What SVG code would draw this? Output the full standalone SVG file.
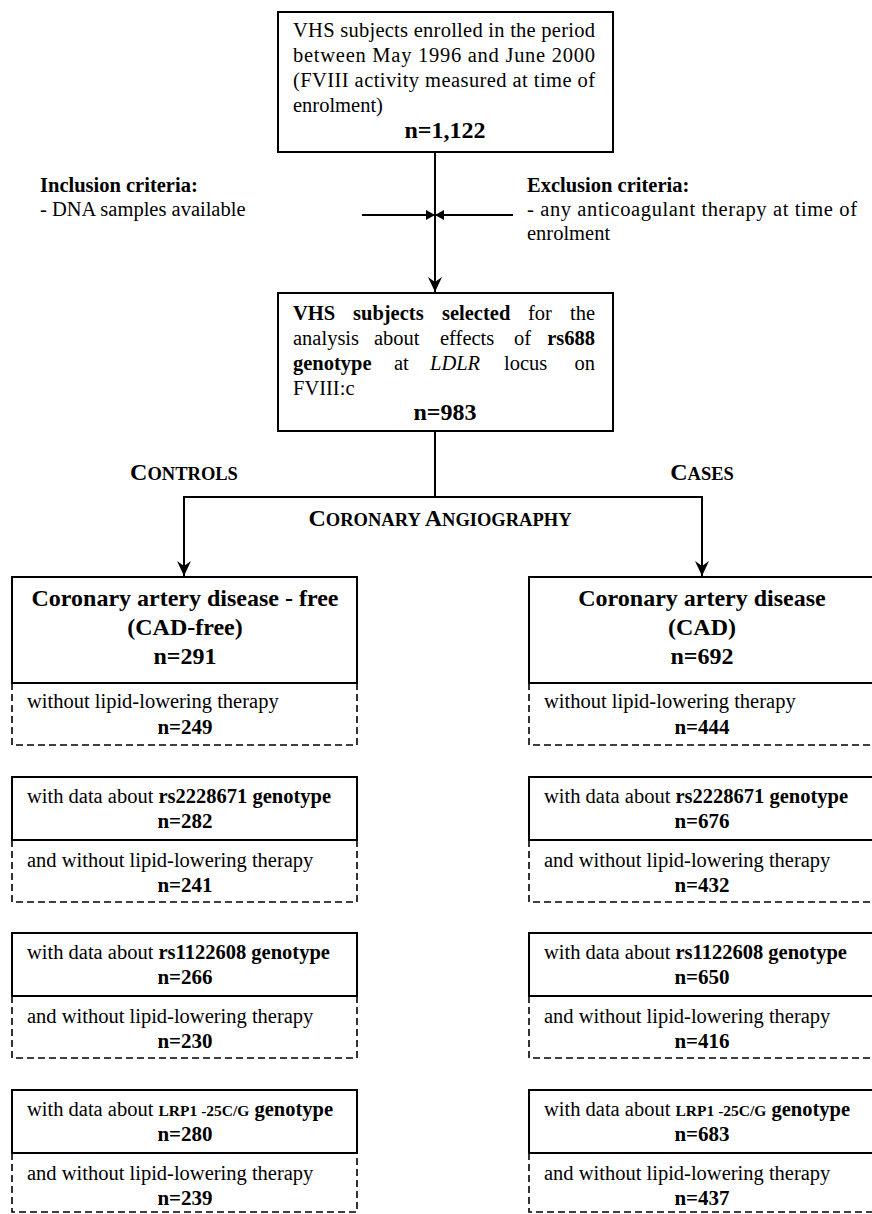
<svg xmlns="http://www.w3.org/2000/svg" width="872" height="1214" viewBox="0 0 872 1214">
<defs>
<style>
.box{fill:none;stroke:#000;stroke-width:2}
.dash{fill:none;stroke:#000;stroke-width:1.6;stroke-dasharray:7 4}
.ln{fill:none;stroke:#000;stroke-width:2}
text{font-family:"Liberation Serif","Times New Roman",serif;font-size:20.5px;fill:#000}
.b{font-weight:bold}
.i{font-style:italic}
.n{font-weight:bold;font-size:21px;text-anchor:middle}
.nb{font-weight:bold;font-size:24px;text-anchor:middle}
.sc{font-weight:bold;text-anchor:middle}
.c{text-anchor:middle}
</style>
<marker id="arr" viewBox="-16 -8 17 16" refX="0" refY="0" markerWidth="17" markerHeight="16" orient="auto" markerUnits="userSpaceOnUse">
<path d="M0,0 L-15,-7 L-10,0 L-15,7 z" fill="#000"/>
</marker>
<marker id="sarr" viewBox="-10 -6 11 12" refX="0" refY="0" markerWidth="11" markerHeight="12" orient="auto" markerUnits="userSpaceOnUse">
<path d="M0,0 L-9,-5 L-9,5 z" fill="#000"/>
</marker>
</defs>
<rect width="872" height="1214" fill="#fff"/>

<g id="connectors">
<line class="ln" x1="435" y1="152" x2="435" y2="292" marker-end="url(#arr)"/>
<line class="ln" x1="362" y1="215" x2="435" y2="215" marker-end="url(#sarr)"/>
<line class="ln" x1="513" y1="215" x2="435" y2="215" marker-end="url(#sarr)"/>
<line class="ln" x1="435" y1="431" x2="435" y2="497"/>
<line class="ln" x1="183" y1="497" x2="703" y2="497"/>
<line class="ln" x1="184" y1="496" x2="184" y2="576" marker-end="url(#arr)"/>
<line class="ln" x1="702" y1="496" x2="702" y2="576" marker-end="url(#arr)"/>
</g>

<g id="enrolled">
<rect class="box" x="278" y="12" width="335" height="140"/>
<text x="293" y="37" textLength="302" lengthAdjust="spacing">VHS subjects enrolled in the period</text>
<text x="293" y="62" textLength="302" lengthAdjust="spacing">between May 1996 and June 2000</text>
<text x="293" y="87" textLength="302" lengthAdjust="spacing">(FVIII activity measured at time of</text>
<text x="293" y="112">enrolment)</text>
<text class="nb" x="445" y="138">n=1,122</text>
</g>

<g id="inclusion">
<text class="b" x="40" y="192">Inclusion criteria:</text>
<text x="40" y="216">- DNA samples available</text>
</g>

<g id="exclusion">
<text class="b" x="527" y="192">Exclusion criteria:</text>
<text x="527" y="216" textLength="330" lengthAdjust="spacing">- any anticoagulant therapy at time of</text>
<text x="527" y="240">enrolment</text>
</g>

<g id="selected">
<rect class="box" x="278" y="293" width="335" height="138"/>
<text class="b" x="293" y="320">VHS</text>
<text class="b" x="353" y="320">subjects</text>
<text class="b" x="442" y="320">selected</text>
<text x="528" y="320">for</text>
<text x="595" y="320" text-anchor="end">the</text>
<text x="293" y="345">analysis</text>
<text x="374" y="345">about</text>
<text x="440" y="345">effects</text>
<text x="514" y="345">of</text>
<text class="b" x="595" y="345" text-anchor="end">rs688</text>
<text class="b" x="293" y="370">genotype</text>
<text x="394" y="370">at</text>
<text class="i" x="430" y="370">LDLR</text>
<text x="504" y="370">locus</text>
<text x="595" y="370" text-anchor="end">on</text>
<text x="293" y="395">FVIII:c</text>
<text class="nb" x="445" y="420">n=983</text>
</g>

<g id="label-controls">
<text class="sc" x="184" y="480"><tspan font-size="24">C</tspan><tspan font-size="18.5">ONTROLS</tspan></text>
</g>
<g id="label-cases">
<text class="sc" x="702" y="480"><tspan font-size="24">C</tspan><tspan font-size="18.5">ASES</tspan></text>
</g>
<g id="label-angiography">
<text class="sc" x="440" y="526"><tspan font-size="24">C</tspan><tspan font-size="18.5">ORONARY </tspan><tspan font-size="24">A</tspan><tspan font-size="18.5">NGIOGRAPHY</tspan></text>
</g>

<g id="cad-free">
<rect class="box" x="12" y="577" width="345" height="106"/>
<text class="nb" x="185" y="606">Coronary artery disease - free</text>
<text class="nb" x="185" y="635">(CAD-free)</text>
<text class="nb" x="185" y="664">n=291</text>
</g>
<g id="cad-free-nolipid">
<path class="dash" d="M12,683 V745 H357 V683"/>
<text x="27" y="708">without lipid-lowering therapy</text>
<text class="n" x="185" y="734">n=249</text>
</g>

<g id="cad">
<rect class="box" x="529" y="577" width="346" height="106"/>
<text class="nb" x="702" y="606">Coronary artery disease</text>
<text class="nb" x="702" y="635">(CAD)</text>
<text class="nb" x="702" y="664">n=692</text>
</g>
<g id="cad-nolipid">
<path class="dash" d="M529,683 V745 H875"/>
<text x="544" y="708">without lipid-lowering therapy</text>
<text class="n" x="702" y="734">n=444</text>
</g>

<g id="ctrl-rs2228671">
<rect class="box" x="12" y="777" width="345" height="63"/>
<text x="27" y="803">with data about <tspan class="b">rs2228671 genotype</tspan></text>
<text class="n" x="185" y="828">n=282</text>
</g>
<g id="ctrl-rs2228671-nolipid">
<path class="dash" d="M12,840 V902 H357 V840"/>
<text x="27" y="867">and without lipid-lowering therapy</text>
<text class="n" x="185" y="892">n=241</text>
</g>
<g id="case-rs2228671">
<rect class="box" x="529" y="777" width="346" height="63"/>
<text x="544" y="803">with data about <tspan class="b">rs2228671 genotype</tspan></text>
<text class="n" x="702" y="828">n=676</text>
</g>
<g id="case-rs2228671-nolipid">
<path class="dash" d="M529,840 V902 H875"/>
<text x="544" y="867">and without lipid-lowering therapy</text>
<text class="n" x="702" y="892">n=432</text>
</g>

<g id="ctrl-rs1122608">
<rect class="box" x="12" y="933" width="345" height="63"/>
<text x="27" y="959">with data about <tspan class="b">rs1122608 genotype</tspan></text>
<text class="n" x="185" y="984">n=266</text>
</g>
<g id="ctrl-rs1122608-nolipid">
<path class="dash" d="M12,996 V1058 H357 V996"/>
<text x="27" y="1023">and without lipid-lowering therapy</text>
<text class="n" x="185" y="1048">n=230</text>
</g>
<g id="case-rs1122608">
<rect class="box" x="529" y="933" width="346" height="63"/>
<text x="544" y="959">with data about <tspan class="b">rs1122608 genotype</tspan></text>
<text class="n" x="702" y="984">n=650</text>
</g>
<g id="case-rs1122608-nolipid">
<path class="dash" d="M529,996 V1058 H875"/>
<text x="544" y="1023">and without lipid-lowering therapy</text>
<text class="n" x="702" y="1048">n=416</text>
</g>

<g id="ctrl-lrp1">
<rect class="box" x="12" y="1090" width="345" height="63"/>
<text x="27" y="1116">with data about <tspan class="b" font-size="15.5">LRP1 -25C/G</tspan> <tspan class="b">genotype</tspan></text>
<text class="n" x="185" y="1141">n=280</text>
</g>
<g id="ctrl-lrp1-nolipid">
<path class="dash" d="M12,1153 V1212 H357 V1153"/>
<text x="27" y="1180">and without lipid-lowering therapy</text>
<text class="n" x="185" y="1205">n=239</text>
</g>
<g id="case-lrp1">
<rect class="box" x="529" y="1090" width="346" height="63"/>
<text x="544" y="1116">with data about <tspan class="b" font-size="15.5">LRP1 -25C/G</tspan> <tspan class="b">genotype</tspan></text>
<text class="n" x="702" y="1141">n=683</text>
</g>
<g id="case-lrp1-nolipid">
<path class="dash" d="M529,1153 V1212 H875"/>
<text x="544" y="1180">and without lipid-lowering therapy</text>
<text class="n" x="702" y="1205">n=437</text>
</g>
</svg>
